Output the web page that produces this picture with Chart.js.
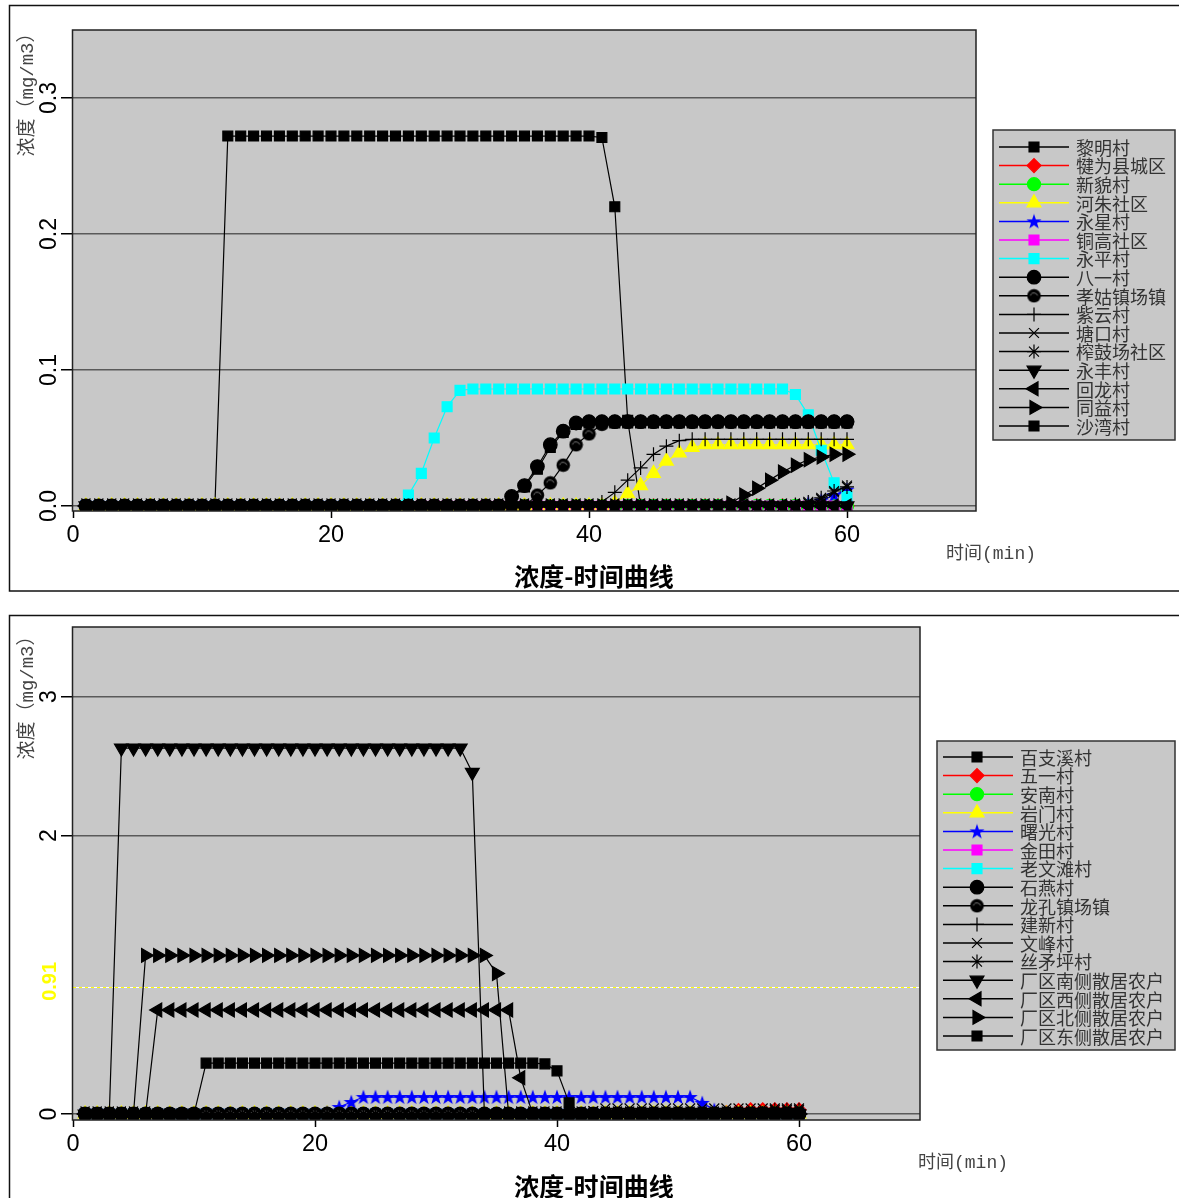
<!DOCTYPE html>
<html>
<head>
<meta charset="utf-8">
<script src="https://cdn.jsdelivr.net/npm/chart.js@4/dist/chart.umd.min.js"></script>
<style>
  body { margin: 0; background: #fff; }
  canvas { position: absolute; left: 0; }
  #topChart { top: 0; }
  #bottomChart { top: 605px; }
</style>
</head>
<body>
<canvas id="topChart" width="1179" height="600"></canvas>
<canvas id="bottomChart" width="1179" height="593"></canvas>
<script>
// ---------------------- DATA ----------------------
const times = [
  1, 2, 3, 4, 5, 6, 7, 8, 9, 10,
  11, 12, 13, 14, 15, 16, 17, 18, 19, 20,
  21, 22, 23, 24, 25, 26, 27, 28, 29, 30,
  31, 32, 33, 34, 35, 36, 37, 38, 39, 40,
  41, 42, 43, 44, 45, 46, 47, 48, 49, 50,
  51, 52, 53, 54, 55, 56, 57, 58, 59, 60
];
const xTicks = [0, 20, 40, 60];

// all-zero trace, shared by the villages that never see the plume
const zeroRun = [
  0, 0, 0, 0, 0, 0, 0, 0, 0, 0,
  0, 0, 0, 0, 0, 0, 0, 0, 0, 0,
  0, 0, 0, 0, 0, 0, 0, 0, 0, 0,
  0, 0, 0, 0, 0, 0, 0, 0, 0, 0,
  0, 0, 0, 0, 0, 0, 0, 0, 0, 0,
  0, 0, 0, 0, 0, 0, 0, 0, 0, 0
];

// top chart
const topNames = ["黎明村", "犍为县城区", "新貌村", "河朱社区", "永星村", "铜高社区", "永平村", "八一村",
  "孝姑镇场镇", "紫云村", "塘口村", "榨鼓场社区", "永丰村", "回龙村", "同益村", "沙湾村"];
const topYTicks = [0, 0.1, 0.2, 0.3];
const topYLabels = ["0.0", "0.1", "0.2", "0.3"];

const liMing = [
  0, 0, 0, 0, 0, 0, 0, 0, 0, 0,
  0, 0.272, 0.272, 0.272, 0.272, 0.272, 0.272, 0.272, 0.272, 0.272,
  0.272, 0.272, 0.272, 0.272, 0.272, 0.272, 0.272, 0.272, 0.272, 0.272,
  0.272, 0.272, 0.272, 0.272, 0.272, 0.272, 0.272, 0.272, 0.272, 0.272,
  0.271, 0.22, 0.063, 0, 0, 0, 0, 0, 0, 0,
  0, 0, 0, 0, 0, 0, 0, 0, 0, 0
];
const heZhu = [
  0, 0, 0, 0, 0, 0, 0, 0, 0, 0,
  0, 0, 0, 0, 0, 0, 0, 0, 0, 0,
  0, 0, 0, 0, 0, 0, 0, 0, 0, 0,
  0, 0, 0, 0, 0, 0, 0, 0, 0, 0,
  0, 0.002, 0.009, 0.015, 0.024, 0.033, 0.039, 0.043, 0.045, 0.045,
  0.045, 0.045, 0.045, 0.045, 0.045, 0.045, 0.045, 0.045, 0.045, 0.045
];
const yongXing = [
  0, 0, 0, 0, 0, 0, 0, 0, 0, 0,
  0, 0, 0, 0, 0, 0, 0, 0, 0, 0,
  0, 0, 0, 0, 0, 0, 0, 0, 0, 0,
  0, 0, 0, 0, 0, 0, 0, 0, 0, 0,
  0, 0, 0, 0, 0, 0, 0, 0, 0, 0,
  0, 0, 0, 0, 0, 0, 0.002, 0.004, 0.008, 0.012
];
const yongPing = [
  0, 0, 0, 0, 0, 0, 0, 0, 0, 0,
  0, 0, 0, 0, 0, 0, 0, 0, 0, 0,
  0, 0, 0, 0, 0, 0.008, 0.024, 0.05, 0.073, 0.085,
  0.086, 0.086, 0.086, 0.086, 0.086, 0.086, 0.086, 0.086, 0.086, 0.086,
  0.086, 0.086, 0.086, 0.086, 0.086, 0.086, 0.086, 0.086, 0.086, 0.086,
  0.086, 0.086, 0.086, 0.086, 0.086, 0.082, 0.067, 0.041, 0.017, 0.007
];
const baYi = [
  0, 0, 0, 0, 0, 0, 0, 0, 0, 0,
  0, 0, 0, 0, 0, 0, 0, 0, 0, 0,
  0, 0, 0, 0, 0, 0, 0, 0, 0, 0,
  0, 0, 0, 0.007, 0.015, 0.029, 0.045, 0.055, 0.061, 0.062,
  0.062, 0.062, 0.062, 0.062, 0.062, 0.062, 0.062, 0.062, 0.062, 0.062,
  0.062, 0.062, 0.062, 0.062, 0.062, 0.062, 0.062, 0.062, 0.062, 0.062
];
const xiaoGu = [
  0, 0, 0, 0, 0, 0, 0, 0, 0, 0,
  0, 0, 0, 0, 0, 0, 0, 0, 0, 0,
  0, 0, 0, 0, 0, 0, 0, 0, 0, 0,
  0, 0, 0, 0, 0, 0.008, 0.017, 0.03, 0.045, 0.053,
  0.06, 0.062, 0.062, 0.062, 0.062, 0.062, 0.062, 0.062, 0.062, 0.062,
  0.062, 0.062, 0.062, 0.062, 0.062, 0.062, 0.062, 0.062, 0.062, 0.062
];
const ziYun = [
  0, 0, 0, 0, 0, 0, 0, 0, 0, 0,
  0, 0, 0, 0, 0, 0, 0, 0, 0, 0,
  0, 0, 0, 0, 0, 0, 0, 0, 0, 0,
  0, 0, 0, 0, 0, 0, 0, 0, 0, 0,
  0.003, 0.01, 0.019, 0.028, 0.038, 0.044, 0.048, 0.049, 0.049, 0.049,
  0.049, 0.049, 0.049, 0.049, 0.049, 0.049, 0.049, 0.049, 0.049, 0.049
];
const tangKou = [
  0, 0, 0, 0, 0, 0, 0, 0, 0, 0,
  0, 0, 0, 0, 0, 0, 0, 0, 0, 0,
  0, 0, 0, 0, 0, 0, 0, 0, 0, 0,
  0, 0, 0, 0, 0, 0, 0, 0, 0, 0,
  0, 0, 0, 0, 0, 0, 0, 0, 0, 0,
  0, 0, 0, 0, 0, 0, 0.002, 0.005, 0.01, 0.015
];
const zhaGu = [
  0, 0, 0, 0, 0, 0, 0, 0, 0, 0,
  0, 0, 0, 0, 0, 0, 0, 0, 0, 0,
  0, 0, 0, 0, 0, 0, 0, 0, 0, 0,
  0, 0, 0, 0, 0, 0, 0, 0, 0, 0,
  0, 0, 0, 0, 0, 0, 0, 0, 0, 0,
  0, 0, 0, 0, 0, 0.001, 0.003, 0.006, 0.011, 0.014
];
const tongYi = [
  0, 0, 0, 0, 0, 0, 0, 0, 0, 0,
  0, 0, 0, 0, 0, 0, 0, 0, 0, 0,
  0, 0, 0, 0, 0, 0, 0, 0, 0, 0,
  0, 0, 0, 0, 0, 0, 0, 0, 0, 0,
  0, 0, 0, 0, 0, 0, 0, 0, 0, 0,
  0.002, 0.008, 0.013, 0.019, 0.025, 0.03, 0.034, 0.036, 0.038, 0.038
];
const shaWan = [
  0, 0, 0, 0, 0, 0, 0, 0, 0, 0,
  0, 0, 0, 0, 0, 0, 0, 0, 0, 0,
  0, 0, 0, 0, 0, 0, 0, 0, 0, 0,
  0, 0, 0, 0.006, 0.014, 0.027, 0.043, 0.054, 0.06, 0.061,
  0.061, 0.061, 0.061, 0.061, 0.061, 0.061, 0.061, 0.061, 0.061, 0.061,
  0.061, 0.061, 0.061, 0.061, 0.061, 0.061, 0.061, 0.061, 0.061, 0.061
];
const topValues = [liMing, zeroRun, zeroRun, heZhu, yongXing, zeroRun, yongPing, baYi,
  xiaoGu, ziYun, tangKou, zhaGu, zeroRun, zeroRun, tongYi, shaWan];

// bottom chart
const bottomNames = ["百支溪村", "五一村", "安南村", "岩门村", "曙光村", "金田村", "老文滩村", "石燕村",
  "龙孔镇场镇", "建新村", "文峰村", "丝矛坪村", "厂区南侧散居农户", "厂区西侧散居农户", "厂区北侧散居农户", "厂区东侧散居农户"];
const bottomYTicks = [0, 0.91, 2, 3];
const bottomYLabels = ["0", "0.91", "2", "3"];
const limitValue = 0.91;

const wuYi = [
  0, 0, 0, 0, 0, 0, 0, 0, 0, 0,
  0, 0, 0, 0, 0, 0, 0, 0, 0, 0,
  0, 0, 0, 0, 0, 0, 0, 0, 0, 0,
  0, 0, 0, 0, 0, 0, 0, 0, 0, 0,
  0, 0, 0, 0, 0, 0, 0, 0, 0, 0,
  0, 0, 0, 0.01, 0.025, 0.03, 0.03, 0.03, 0.03, 0.03
];
const shuGuang = [
  0, 0, 0, 0, 0, 0, 0, 0, 0, 0,
  0, 0, 0, 0, 0, 0, 0, 0, 0, 0,
  0.01, 0.05, 0.086, 0.122, 0.122, 0.122, 0.122, 0.122, 0.122, 0.122,
  0.122, 0.122, 0.122, 0.122, 0.122, 0.122, 0.122, 0.122, 0.122, 0.122,
  0.122, 0.122, 0.122, 0.122, 0.122, 0.122, 0.122, 0.122, 0.122, 0.122,
  0.122, 0.08, 0.03, 0.005, 0, 0, 0, 0, 0, 0
];
const wenFeng = [
  0, 0, 0, 0, 0, 0, 0, 0, 0, 0,
  0, 0, 0, 0, 0, 0, 0, 0, 0, 0,
  0, 0, 0, 0, 0, 0, 0, 0, 0, 0,
  0, 0, 0, 0, 0, 0, 0, 0, 0, 0,
  0, 0.005, 0.02, 0.04, 0.04, 0.04, 0.04, 0.04, 0.04, 0.04,
  0.04, 0.04, 0.04, 0.04, 0.04, 0.04, 0.04, 0.04, 0.04, 0.04
];
const siMao = [
  0, 0, 0, 0, 0, 0, 0, 0, 0, 0,
  0, 0, 0, 0, 0, 0, 0, 0, 0, 0,
  0, 0, 0, 0, 0, 0, 0, 0, 0, 0,
  0, 0, 0, 0, 0, 0, 0, 0, 0, 0,
  0, 0, 0, 0, 0, 0, 0, 0, 0, 0,
  0, 0, 0, 0, 0, 0, 0.01, 0.03, 0.03, 0.03
];
const southFarms = [
  0, 0, 0, 2.63, 2.63, 2.63, 2.63, 2.63, 2.63, 2.63,
  2.63, 2.63, 2.63, 2.63, 2.63, 2.63, 2.63, 2.63, 2.63, 2.63,
  2.63, 2.63, 2.63, 2.63, 2.63, 2.63, 2.63, 2.63, 2.63, 2.63,
  2.63, 2.63, 2.455, 0, 0, 0, 0, 0, 0, 0,
  0, 0, 0, 0, 0, 0, 0, 0, 0, 0,
  0, 0, 0, 0, 0, 0, 0, 0, 0, 0
];
const westFarms = [
  0, 0, 0, 0, 0, 0, 0.747, 0.747, 0.747, 0.747,
  0.747, 0.747, 0.747, 0.747, 0.747, 0.747, 0.747, 0.747, 0.747, 0.747,
  0.747, 0.747, 0.747, 0.747, 0.747, 0.747, 0.747, 0.747, 0.747, 0.747,
  0.747, 0.747, 0.747, 0.747, 0.747, 0.747, 0.26, 0, 0, 0,
  0, 0, 0, 0, 0, 0, 0, 0, 0, 0,
  0, 0, 0, 0, 0, 0, 0, 0, 0, 0
];
const northFarms = [
  0, 0, 0, 0, 0, 1.14, 1.14, 1.14, 1.14, 1.14,
  1.14, 1.14, 1.14, 1.14, 1.14, 1.14, 1.14, 1.14, 1.14, 1.14,
  1.14, 1.14, 1.14, 1.14, 1.14, 1.14, 1.14, 1.14, 1.14, 1.14,
  1.14, 1.14, 1.14, 1.14, 1.01, 0, 0, 0, 0, 0,
  0, 0, 0, 0, 0, 0, 0, 0, 0, 0,
  0, 0, 0, 0, 0, 0, 0, 0, 0, 0
];
const eastFarms = [
  0, 0, 0, 0, 0, 0, 0, 0, 0, 0,
  0.366, 0.366, 0.366, 0.366, 0.366, 0.366, 0.366, 0.366, 0.366, 0.366,
  0.366, 0.366, 0.366, 0.366, 0.366, 0.366, 0.366, 0.366, 0.366, 0.366,
  0.366, 0.366, 0.366, 0.366, 0.366, 0.366, 0.366, 0.366, 0.36, 0.31,
  0.08, 0, 0, 0, 0, 0, 0, 0, 0, 0,
  0, 0, 0, 0, 0, 0, 0, 0, 0, 0
];
const bottomValues = [zeroRun, wuYi, zeroRun, zeroRun, shuGuang, zeroRun, zeroRun, zeroRun,
  zeroRun, zeroRun, wenFeng, siMao, southFarms, westFarms, northFarms, eastFarms];

// ---------------------- MARKERS ----------------------
function starImage(color) {
  const c = document.createElement("canvas");
  c.width = 16; c.height = 16;
  const g = c.getContext("2d");
  g.fillStyle = color;
  g.beginPath();
  for (let k = 0; k < 10; k++) {
    const r = k % 2 ? 3.2 : 8;
    const a = -Math.PI / 2 + k * Math.PI / 5;
    g.lineTo(8 + r * Math.cos(a), 8.5 + r * Math.sin(a));
  }
  g.closePath();
  g.fill();
  return c;
}
function shadedCircleImage() {
  const c = document.createElement("canvas");
  c.width = 15; c.height = 15;
  const g = c.getContext("2d");
  g.fillStyle = "#000";
  g.beginPath(); g.arc(7.5, 7.5, 6.8, 0, Math.PI * 2); g.fill();
  g.strokeStyle = "#777"; g.lineWidth = 1;
  g.beginPath(); g.arc(7.5, 8.5, 3.8, Math.PI * 1.1, Math.PI * 1.9); g.stroke();
  return c;
}

// one style per legend slot, same in both panels
const seriesStyles = [
  { color: "#000000", style: "rect", radius: 7 },
  { color: "#ff0000", style: "rectRot", radius: 7 },
  { color: "#00ff00", style: "circle", radius: 6.5 },
  { color: "#ffff00", style: "triangle", radius: 8 },
  { color: "#0000ff", style: starImage("#0000ff"), radius: 7 },
  { color: "#ff00ff", style: "rect", radius: 7 },
  { color: "#00ffff", style: "rect", radius: 7 },
  { color: "#000000", style: "circle", radius: 6.8 },
  { color: "#000000", style: shadedCircleImage(), radius: 7 },
  { color: "#000000", style: "cross", radius: 7 },
  { color: "#000000", style: "crossRot", radius: 7 },
  { color: "#000000", style: "star", radius: 7 },
  { color: "#000000", style: "triangle", radius: 8, rotation: 180 },
  { color: "#000000", style: "triangle", radius: 8, rotation: -90 },
  { color: "#000000", style: "triangle", radius: 8, rotation: 90 },
  { color: "#000000", style: "rect", radius: 7 },
];

function buildDatasets(names, values) {
  return names.map((name, i) => {
    const s = seriesStyles[i];
    return {
      label: name,
      data: values[i].slice(),
      order: names.length - i, // later series painted on top
      borderColor: s.color,
      backgroundColor: s.color,
      pointBackgroundColor: s.color,
      pointBorderColor: s.color,
      borderWidth: 1.2,
      pointBorderWidth: 1.2,
      pointStyle: s.style,
      pointRadius: s.radius,
      pointRotation: s.rotation || 0,
      tension: 0,
    };
  });
}

// ---------------------- DECORATION PLUGIN ----------------------
const decor = {
  id: "decor",
  beforeDraw(chart, args, opts) {
    const { ctx, chartArea: a } = chart;
    ctx.save();
    ctx.fillStyle = "#c8c8c8";
    ctx.fillRect(a.left, a.top, a.right - a.left, a.bottom - a.top);
    ctx.restore();
  },
  beforeDatasetsDraw(chart, args, opts) {
    if (opts.limit == null) return;
    const { ctx, chartArea: a } = chart;
    const y = Math.round(chart.scales.y.getPixelForValue(opts.limit)) + 0.5;
    ctx.save();
    ctx.lineWidth = 1;
    ctx.strokeStyle = "#ffff00";
    ctx.setLineDash([3, 3]);
    ctx.beginPath(); ctx.moveTo(a.left, y); ctx.lineTo(a.right, y); ctx.stroke();
    ctx.strokeStyle = "#ffffff";
    ctx.lineDashOffset = 3;
    ctx.beginPath(); ctx.moveTo(a.left, y); ctx.lineTo(a.right, y); ctx.stroke();
    ctx.restore();
  },
  afterDraw(chart, args, opts) {
    const { ctx, chartArea: a } = chart;
    const yScale = chart.scales.y;
    ctx.save();

    // plot frame
    ctx.strokeStyle = "#222";
    ctx.lineWidth = 1.5;
    ctx.strokeRect(a.left - 0.5, a.top, a.right - a.left + 0.5, a.bottom - a.top);

    // rotated y tick labels
    ctx.textAlign = "center";
    ctx.textBaseline = "middle";
    opts.yTicks.forEach((v, i) => {
      const isLimit = v === opts.limit;
      ctx.save();
      ctx.translate(50, yScale.getPixelForValue(v) + (isLimit ? -6 : 0));
      ctx.rotate(-Math.PI / 2);
      ctx.font = isLimit ? 'bold 20px "Liberation Sans", Arial, sans-serif'
                         : '23px "Liberation Sans", Arial, sans-serif';
      ctx.fillStyle = isLimit ? "#ffff00" : "#000";
      ctx.fillText(opts.yLabels[i], 0, 0);
      ctx.restore();
    });

    // y title
    ctx.save();
    ctx.translate(28, opts.yTitleY);
    ctx.rotate(-Math.PI / 2);
    ctx.font = '19px "Liberation Mono", "Noto Sans CJK SC", monospace';
    ctx.fillStyle = "#444";
    ctx.fillText("浓度（mg/m3）", 0, 0);
    ctx.restore();

    // x title
    ctx.font = '18px "Liberation Mono", "Noto Sans CJK SC", monospace';
    ctx.fillStyle = "#444";
    ctx.textAlign = "left";
    ctx.fillText("时间(min)", opts.xTitle.x, opts.xTitle.y);

    // chart title
    ctx.font = 'bold 25px "Noto Sans CJK SC", sans-serif';
    ctx.fillStyle = "#000";
    ctx.textAlign = "center";
    ctx.fillText("浓度-时间曲线", 594, opts.titleY);

    // outer frame
    ctx.strokeStyle = "#111";
    ctx.lineWidth = 1.5;
    ctx.strokeRect(9.5, opts.frameTop, 1200, opts.frameHeight);

    // legend
    const L = opts.legend;
    ctx.fillStyle = "#c8c8c8";
    ctx.fillRect(L.x, L.y, L.w, L.h);
    ctx.strokeStyle = "#333";
    ctx.lineWidth = 1.5;
    ctx.strokeRect(L.x, L.y, L.w, L.h);
    ctx.font = '18px "Noto Sans CJK SC", sans-serif';
    ctx.textAlign = "left";
    ctx.textBaseline = "middle";
    chart.data.datasets.forEach((ds, i) => {
      const y = L.firstRow + i * L.step;
      ctx.strokeStyle = ds.borderColor;
      ctx.lineWidth = 1.5;
      ctx.beginPath(); ctx.moveTo(L.lineX0, y); ctx.lineTo(L.lineX1, y); ctx.stroke();
      ctx.fillStyle = ds.pointBackgroundColor;
      ctx.strokeStyle = ds.pointBorderColor;
      ctx.lineWidth = 1.2;
      Chart.helpers.drawPoint(ctx, {
        pointStyle: ds.pointStyle, rotation: ds.pointRotation,
        radius: ds.pointRadius, borderWidth: 1.2,
      }, L.markX, y);
      ctx.fillStyle = "#333";
      ctx.fillText(ds.label, L.textX, y + 1);
    });
    ctx.restore();
  },
};

// ---------------------- CHARTS ----------------------
function makeChart(canvasId, names, values, yMin, yMax, yTicks, pad, decorOpts) {
  return new Chart(document.getElementById(canvasId), {
    type: "line",
    data: { labels: times, datasets: buildDatasets(names, values) },
    options: {
      responsive: false,
      animation: false,
      devicePixelRatio: 1,
      events: [],
      layout: { padding: pad },
      plugins: { legend: { display: false }, tooltip: { enabled: false }, decor: decorOpts },
      scales: {
        x: {
          type: "linear",
          min: 0,
          max: 70,
          afterBuildTicks: (s) => { s.ticks = xTicks.map((v) => ({ value: v })); },
          afterFit: (s) => { s.height = 40; },
          ticks: { color: "#000", padding: 3, font: { size: 23.5, family: '"Liberation Sans", Arial, sans-serif' } },
          grid: { drawOnChartArea: false, tickLength: 7, tickColor: "#000", tickWidth: 1.5 },
          border: { display: false },
        },
        y: {
          min: yMin,
          max: yMax,
          afterBuildTicks: (s) => { s.ticks = yTicks.map((v) => ({ value: v })); },
          afterFit: (s) => { s.width = 73; },
          ticks: { display: false },
          grid: {
            color: (c) => (c.tick && c.tick.value === decorOpts.limit ? "rgba(0,0,0,0)" : "#5a5a5a"),
            tickColor: (c) => (c.tick && c.tick.value === decorOpts.limit ? "rgba(0,0,0,0)" : "#000"),
            lineWidth: 1.5,
            tickLength: 12,
          },
          border: { display: false },
        },
      },
    },
    plugins: [decor],
  });
}

makeChart("topChart", topNames, topValues, -0.0037, 0.35, topYTicks,
  { left: 0, right: 203, top: 30, bottom: 49 },
  {
    yTicks: topYTicks, yLabels: topYLabels, limit: null,
    yTitleY: 90, xTitle: { x: 946, y: 554 }, titleY: 576,
    frameTop: 5.5, frameHeight: 585.5,
    legend: { x: 993, y: 130, w: 182, h: 310, firstRow: 147, step: 18.6, lineX0: 999, lineX1: 1069, markX: 1034, textX: 1076 },
  });

makeChart("bottomChart", bottomNames, bottomValues, -0.043, 3.5, bottomYTicks,
  { left: 0, right: 259, top: 22, bottom: 38 },
  {
    yTicks: bottomYTicks, yLabels: bottomYLabels, limit: limitValue,
    yTitleY: 88, xTitle: { x: 918, y: 558 }, titleY: 581,
    frameTop: 10.5, frameHeight: 700,
    legend: { x: 937, y: 136, w: 238, h: 309, firstRow: 152, step: 18.6, lineX0: 943, lineX1: 1013, markX: 977, textX: 1020 },
  });
</script>
</body>
</html>
